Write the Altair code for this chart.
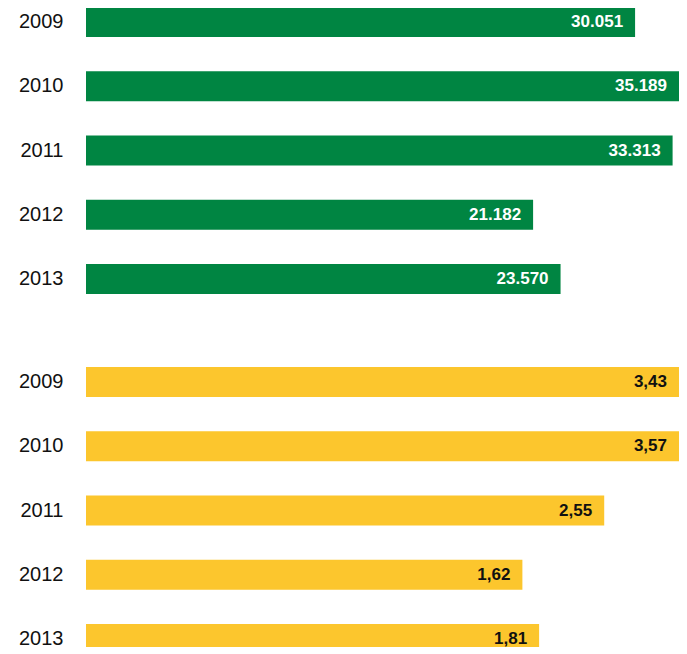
import altair as alt
import pandas as pd

years = ["2009", "2010", "2011", "2012", "2013"]
green_values = [30051, 35189, 33313, 21182, 23570]
green_labels = ["30.051", "35.189", "33.313", "21.182", "23.570"]
yellow_values = [3.43, 3.57, 2.55, 1.62, 1.81]
yellow_labels = ["3,43", "3,57", "2,55", "1,62", "1,81"]

GREEN = "#008542"
YELLOW = "#FCC62D"

green_df = pd.DataFrame({"year": years, "value": green_values, "label": green_labels})
yellow_df = pd.DataFrame({"year": years, "value": yellow_values, "label": yellow_labels})

FONT = "Liberation Sans"


def panel(df, color, text_color, domain):
    yenc = alt.Y(
        "year:N",
        sort=years,
        title=None,
        scale=alt.Scale(paddingInner=0.533, paddingOuter=0),
        axis=alt.Axis(
            domain=False,
            ticks=False,
            labelFontSize=20,
            labelFont=FONT,
            labelColor="#111111",
            labelPadding=23,
        ),
    )
    xscale = alt.Scale(domain=domain, zero=False, nice=False, clamp=True)
    bars = alt.Chart(df).mark_bar(color=color).encode(
        y=yenc,
        x=alt.X("value:Q", scale=xscale, axis=None),
        x2=alt.datum(domain[0]),
    )
    text = alt.Chart(df).mark_text(
        align="right",
        baseline="middle",
        dx=-12,
        fontSize=17,
        fontWeight="bold",
        font=FONT,
        color=text_color,
    ).encode(
        y=alt.Y("year:N", sort=years),
        x=alt.X("value:Q", scale=xscale, axis=None),
        text="label:N",
    )
    return (bars + text).properties(width=593, height=287)


top = panel(green_df, GREEN, "white", [-17700, 33870])
bottom = panel(yellow_df, YELLOW, "#111111", [-3.34, 3.40])

chart = (
    alt.vconcat(top, bottom, spacing=72)
    .properties(padding={"left": 10, "top": -1, "right": 0, "bottom": -7})
    .configure(background="white")
    .configure_view(strokeWidth=0, stroke=None)
)

chart.save("out.html", embed_options={"renderer": "svg", "actions": False})
